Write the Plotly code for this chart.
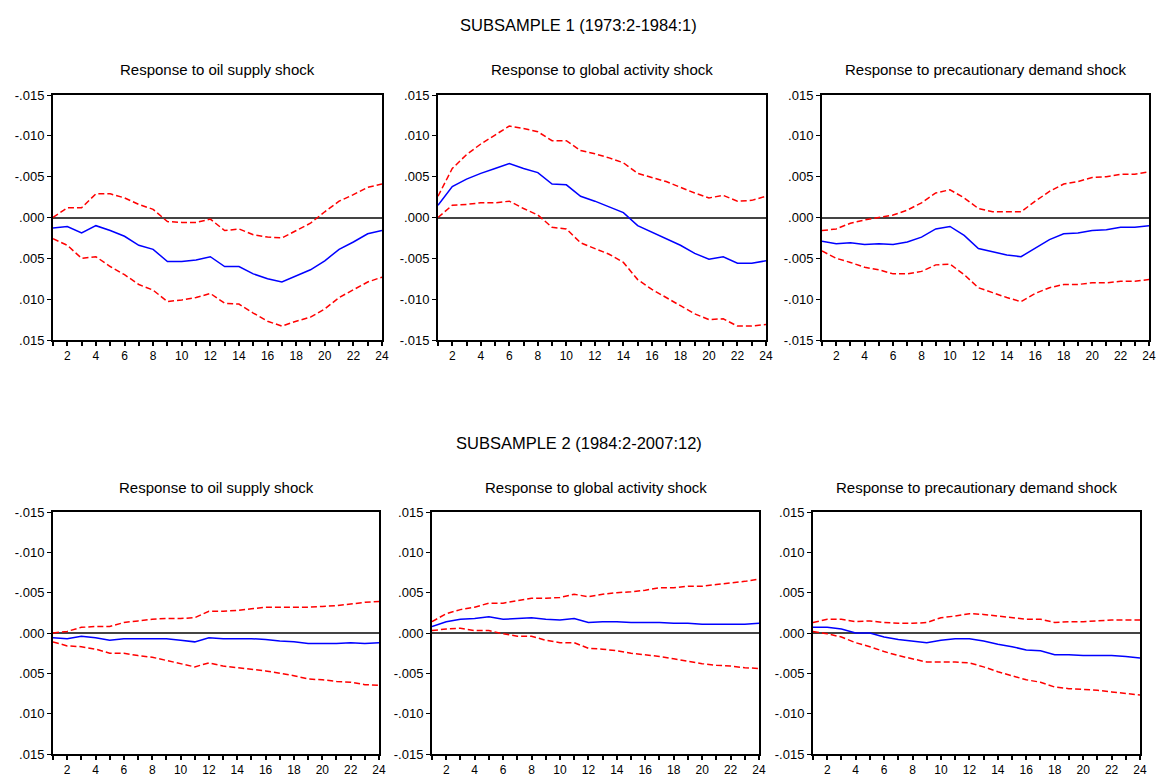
import plotly.graph_objects as go

horizon = list(range(1, 25))

# ---- SUBSAMPLE 1 (1973:2-1984:1) ----
# Oil supply shock (plotted on an inverted scale, as in the original)
s1_oil_irf = [0.0013, 0.0011, 0.0019, 0.0010, 0.0016, 0.0023, 0.0034, 0.0039, 0.0054, 0.0054, 0.0052, 0.0048,
              0.0060, 0.0060, 0.0069, 0.0075, 0.0079, 0.0072, 0.0064, 0.0053, 0.0039, 0.0030, 0.0020, 0.0016]
s1_oil_b1 = [0.0000, -0.0012, -0.0012, -0.0029, -0.0029, -0.0024, -0.0016, -0.0010, 0.0005, 0.0006, 0.0006, 0.0002,
             0.0016, 0.0014, 0.0021, 0.0024, 0.0025, 0.0016, 0.0007, -0.0007, -0.0020, -0.0028, -0.0037, -0.0041]
s1_oil_b2 = [0.0026, 0.0034, 0.0050, 0.0048, 0.0060, 0.0070, 0.0082, 0.0089, 0.0103, 0.0101, 0.0098, 0.0093,
             0.0105, 0.0106, 0.0117, 0.0127, 0.0133, 0.0127, 0.0122, 0.0112, 0.0098, 0.0089, 0.0079, 0.0073]
# Global activity shock
s1_act_irf = [0.0015, 0.0038, 0.0047, 0.0054, 0.0060, 0.0066, 0.0060, 0.0055, 0.0041, 0.0040, 0.0026, 0.0020,
              0.0013, 0.0006, -0.0010, -0.0018, -0.0025, -0.0034, -0.0044, -0.0051, -0.0048, -0.0056, -0.0056, -0.0053]
s1_act_b1 = [0.0026, 0.0060, 0.0077, 0.0090, 0.0101, 0.0112, 0.0109, 0.0105, 0.0094, 0.0094, 0.0082, 0.0078,
             0.0073, 0.0067, 0.0054, 0.0049, 0.0044, 0.0037, 0.0030, 0.0024, 0.0027, 0.0020, 0.0021, 0.0026]
s1_act_b2 = [0.0000, 0.0015, 0.0016, 0.0018, 0.0018, 0.0020, 0.0011, 0.0003, -0.0012, -0.0014, -0.0031, -0.0038,
             -0.0045, -0.0055, -0.0076, -0.0088, -0.0098, -0.0108, -0.0118, -0.0125, -0.0124, -0.0133, -0.0133, -0.0131]
# Precautionary demand shock
s1_pre_irf = [-0.0029, -0.0032, -0.0031, -0.0033, -0.0032, -0.0033, -0.0030, -0.0024, -0.0014, -0.0011, -0.0022, -0.0038,
              -0.0042, -0.0046, -0.0048, -0.0037, -0.0027, -0.0020, -0.0019, -0.0016, -0.0015, -0.0012, -0.0012, -0.0010]
s1_pre_b1 = [-0.0016, -0.0014, -0.0007, -0.0003, 0.0000, 0.0003, 0.0009, 0.0018, 0.0030, 0.0034, 0.0024, 0.0011,
             0.0007, 0.0007, 0.0007, 0.0020, 0.0032, 0.0041, 0.0044, 0.0049, 0.0050, 0.0053, 0.0053, 0.0056]
s1_pre_b2 = [-0.0041, -0.0050, -0.0055, -0.0061, -0.0064, -0.0069, -0.0069, -0.0066, -0.0058, -0.0057, -0.0070, -0.0086,
             -0.0092, -0.0098, -0.0103, -0.0093, -0.0086, -0.0082, -0.0082, -0.0080, -0.0080, -0.0078, -0.0078, -0.0076]

# ---- SUBSAMPLE 2 (1984:2-2007:12) ----
s2_oil_irf = [0.0006, 0.0007, 0.0004, 0.0006, 0.0009, 0.0007, 0.0007, 0.0007, 0.0007, 0.0009, 0.0011, 0.0006,
              0.0007, 0.0007, 0.0007, 0.0008, 0.0010, 0.0011, 0.0013, 0.0013, 0.0013, 0.0012, 0.0013, 0.0012]
s2_oil_b1 = [0.0000, -0.0002, -0.0007, -0.0008, -0.0008, -0.0013, -0.0015, -0.0017, -0.0018, -0.0018, -0.0019, -0.0027,
             -0.0027, -0.0028, -0.0030, -0.0032, -0.0032, -0.0032, -0.0032, -0.0033, -0.0034, -0.0036, -0.0038, -0.0039]
s2_oil_b2 = [0.0011, 0.0016, 0.0017, 0.0020, 0.0025, 0.0025, 0.0028, 0.0030, 0.0034, 0.0038, 0.0042, 0.0037,
             0.0041, 0.0043, 0.0045, 0.0047, 0.0050, 0.0053, 0.0057, 0.0058, 0.0060, 0.0061, 0.0064, 0.0065]
s2_act_irf = [0.0008, 0.0014, 0.0017, 0.0018, 0.0020, 0.0017, 0.0018, 0.0019, 0.0017, 0.0016, 0.0018, 0.0013,
              0.0014, 0.0014, 0.0013, 0.0013, 0.0013, 0.0012, 0.0012, 0.0011, 0.0011, 0.0011, 0.0011, 0.0012]
s2_act_b1 = [0.0014, 0.0024, 0.0029, 0.0032, 0.0037, 0.0037, 0.0040, 0.0043, 0.0043, 0.0044, 0.0048, 0.0045,
             0.0048, 0.0050, 0.0051, 0.0053, 0.0056, 0.0056, 0.0058, 0.0058, 0.0060, 0.0062, 0.0064, 0.0067]
s2_act_b2 = [0.0003, 0.0005, 0.0006, 0.0003, 0.0003, -0.0001, -0.0004, -0.0004, -0.0009, -0.0012, -0.0012, -0.0019,
             -0.0020, -0.0022, -0.0025, -0.0027, -0.0029, -0.0032, -0.0035, -0.0038, -0.0040, -0.0041, -0.0043, -0.0044]
s2_pre_irf = [0.0007, 0.0007, 0.0005, 0.0000, 0.0000, -0.0005, -0.0008, -0.0010, -0.0012, -0.0009, -0.0007, -0.0007,
              -0.0010, -0.0014, -0.0017, -0.0021, -0.0022, -0.0027, -0.0027, -0.0028, -0.0028, -0.0028, -0.0029, -0.0031]
s2_pre_b1 = [0.0013, 0.0017, 0.0017, 0.0014, 0.0015, 0.0013, 0.0012, 0.0012, 0.0013, 0.0019, 0.0021, 0.0024,
             0.0023, 0.0021, 0.0019, 0.0017, 0.0017, 0.0013, 0.0014, 0.0014, 0.0015, 0.0016, 0.0016, 0.0016]
s2_pre_b2 = [0.0002, -0.0001, -0.0005, -0.0012, -0.0017, -0.0023, -0.0028, -0.0032, -0.0036, -0.0036, -0.0036, -0.0037,
             -0.0042, -0.0048, -0.0053, -0.0058, -0.0061, -0.0067, -0.0069, -0.0070, -0.0071, -0.0073, -0.0075, -0.0077]

panel_titles = ["Response to oil supply shock", "Response to global activity shock",
                "Response to precautionary demand shock"]
section_titles = ["SUBSAMPLE 1 (1973:2-1984:1)", "SUBSAMPLE 2 (1984:2-2007:12)"]

ytick_vals = [-0.015, -0.010, -0.005, 0.0, 0.005, 0.010, 0.015]
ytick_text = ["-.015", "-.010", "-.005", ".000", ".005", ".010", ".015"]
xtick_text = [str(h) if h % 2 == 0 else "" for h in horizon]

panels = [
    (s1_oil_irf, s1_oil_b1, s1_oil_b2, True),
    (s1_act_irf, s1_act_b1, s1_act_b2, False),
    (s1_pre_irf, s1_pre_b1, s1_pre_b2, False),
    (s2_oil_irf, s2_oil_b1, s2_oil_b2, True),
    (s2_act_irf, s2_act_b1, s2_act_b2, False),
    (s2_pre_irf, s2_pre_b1, s2_pre_b2, False),
]

W, H = 1157, 778
# pixel boxes (left, right, top, bottom)
boxes = [
    (53, 382, 95, 340), (438, 766, 95, 340), (822, 1149, 95, 340),
    (53, 379, 512, 754), (432, 759, 512, 754), (813, 1140, 512, 754),
]

FONT = "Liberation Sans, Arial, sans-serif"
fig = go.Figure()
layout = dict(width=W, height=H, margin=dict(l=0, r=0, t=0, b=0, autoexpand=False),
              paper_bgcolor="white", plot_bgcolor="white", showlegend=False,
              font=dict(family=FONT, color="black"))
annotations = []

for i, ((irf, b1, b2, inverted), (l, r, t, b)) in enumerate(zip(panels, boxes)):
    n = i + 1
    xa = "x" if n == 1 else f"x{n}"
    ya = "y" if n == 1 else f"y{n}"
    for band in (b1, b2):
        fig.add_trace(go.Scatter(x=horizon, y=band, mode="lines", xaxis=xa, yaxis=ya,
                                 line=dict(color="#ff0000", width=1.5, dash="6px,3px")))
    fig.add_trace(go.Scatter(x=horizon, y=irf, mode="lines", xaxis=xa, yaxis=ya,
                             line=dict(color="#0000ff", width=1.5)))
    xkey = "xaxis" if n == 1 else f"xaxis{n}"
    ykey = "yaxis" if n == 1 else f"yaxis{n}"
    layout[xkey] = dict(domain=[l / W, r / W], anchor=ya, range=[1, 24], automargin=False,
                        tickmode="array", tickvals=horizon, ticktext=xtick_text,
                        ticks="outside", ticklen=4, tickwidth=1.5, tickcolor="black",
                        ticklabeloverflow="allow",
                        showline=True, mirror=True, linewidth=2, linecolor="black",
                        showgrid=False, zeroline=False,
                        tickfont=dict(family=FONT, size=12, color="black"))
    yr = [0.015, -0.015] if inverted else [-0.015, 0.015]
    layout[ykey] = dict(domain=[1 - b / H, 1 - t / H], anchor=xa, range=yr, automargin=False,
                        tickmode="array", tickvals=ytick_vals, ticktext=ytick_text,
                        ticks="outside", ticklen=4, tickwidth=1, tickcolor="black",
                        ticklabeloverflow="allow",
                        showline=True, mirror=True, linewidth=2, linecolor="black",
                        showgrid=False, zeroline=True, zerolinecolor="#444444", zerolinewidth=1.5,
                        tickfont=dict(family=FONT, size=13, color="black"))
    annotations.append(dict(text=panel_titles[i % 3], x=(l + r) / 2 / W, y=1 - (69 if i < 3 else 487) / H,
                            xref="paper", yref="paper", showarrow=False, xanchor="center", yanchor="middle",
                            font=dict(family=FONT, size=15, color="black")))

for k, title in enumerate(section_titles):
    annotations.append(dict(text=title, x=0.5, y=1 - (25 if k == 0 else 443) / H,
                            xref="paper", yref="paper", showarrow=False, xanchor="center", yanchor="middle",
                            font=dict(family=FONT, size=16.5, color="black")))

layout["annotations"] = annotations
fig.update_layout(**layout)
fig.write_html("out.html", config={"displayModeBar": False},
               post_script="document.body.style.margin='0';document.body.style.overflow='hidden';")
